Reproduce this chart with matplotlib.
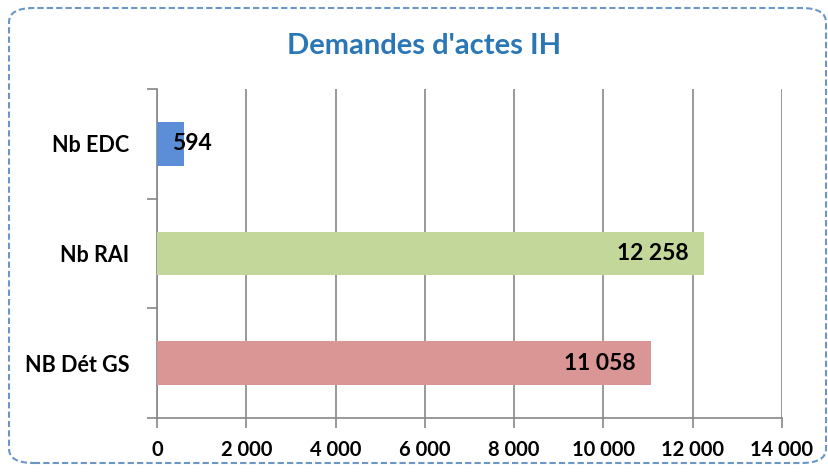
import matplotlib.pyplot as plt
from matplotlib.patches import FancyBboxPatch

# Demandes d'actes IH
categories = ['Nb EDC', 'Nb RAI', 'NB Dét GS']
values = [594, 12258, 11058]
bar_colors = ['#5B8ED6', '#C4D79B', '#D99694']
xticks = [0, 2000, 4000, 6000, 8000, 10000, 12000, 14000]


def fmt(v):
    return f"{v:,}".replace(',', ' ')


plt.rcParams['font.family'] = ['Lato', 'DejaVu Sans']

fig = plt.figure(figsize=(8.29, 4.72), dpi=100)
ax = fig.add_axes([157 / 829, 1 - 418 / 472, (782 - 157) / 829, (418 - 89) / 472])

ypos = list(range(len(categories)))[::-1]
ax.barh(ypos, values, height=0.4, color=bar_colors, zorder=3)

for y, v in zip(ypos, values):
    if v < 2000:
        ax.annotate(fmt(v), (0, y), xytext=(10.5, 0), textcoords='offset points',
                    ha='left', va='center', fontsize=16.5, fontweight='bold', zorder=4)
    else:
        ax.annotate(fmt(v), (v, y), xytext=(-11, 0), textcoords='offset points',
                    ha='right', va='center', fontsize=16.5, fontweight='bold', zorder=4)

ax.set_xlim(0, 14000)
ax.set_ylim(-0.5, 2.5)
ax.set_xticks(xticks)
ax.set_xticklabels([fmt(t) for t in xticks], fontsize=14.5, fontweight='bold')
ax.set_yticks(ypos)
ax.set_yticklabels(categories, fontsize=15.5, fontweight='bold')
ax.set_yticks([-0.5, 0.5, 1.5, 2.5], minor=True)
ax.tick_params(axis='y', which='major', length=0, pad=20)
ax.tick_params(axis='y', which='minor', length=7, color='#888888', width=1.2)
ax.tick_params(axis='x', length=7, color='#888888', width=1.2, pad=9)
ax.grid(axis='x', color='#888888', linewidth=1.2, zorder=0)

for s in ['top', 'right']:
    ax.spines[s].set_visible(False)
for s in ['left', 'bottom']:
    ax.spines[s].set_color('#888888')
    ax.spines[s].set_linewidth(1.2)

fig.text(424 / 829, 1 - 46 / 472, "Demandes d'actes IH", ha='center', va='center',
         fontsize=21, fontweight='bold', color='#2A77B8')

border = FancyBboxPatch((9 / 829, 9 / 472), 817 / 829, 455 / 472,
                        boxstyle='round,pad=0,rounding_size=0.03',
                        transform=fig.transFigure, fill=False,
                        edgecolor='#6A97C8', linewidth=1.5, linestyle=(0, (3, 1.5)))
fig.patches.append(border)

fig.savefig('out.png', dpi=100)
